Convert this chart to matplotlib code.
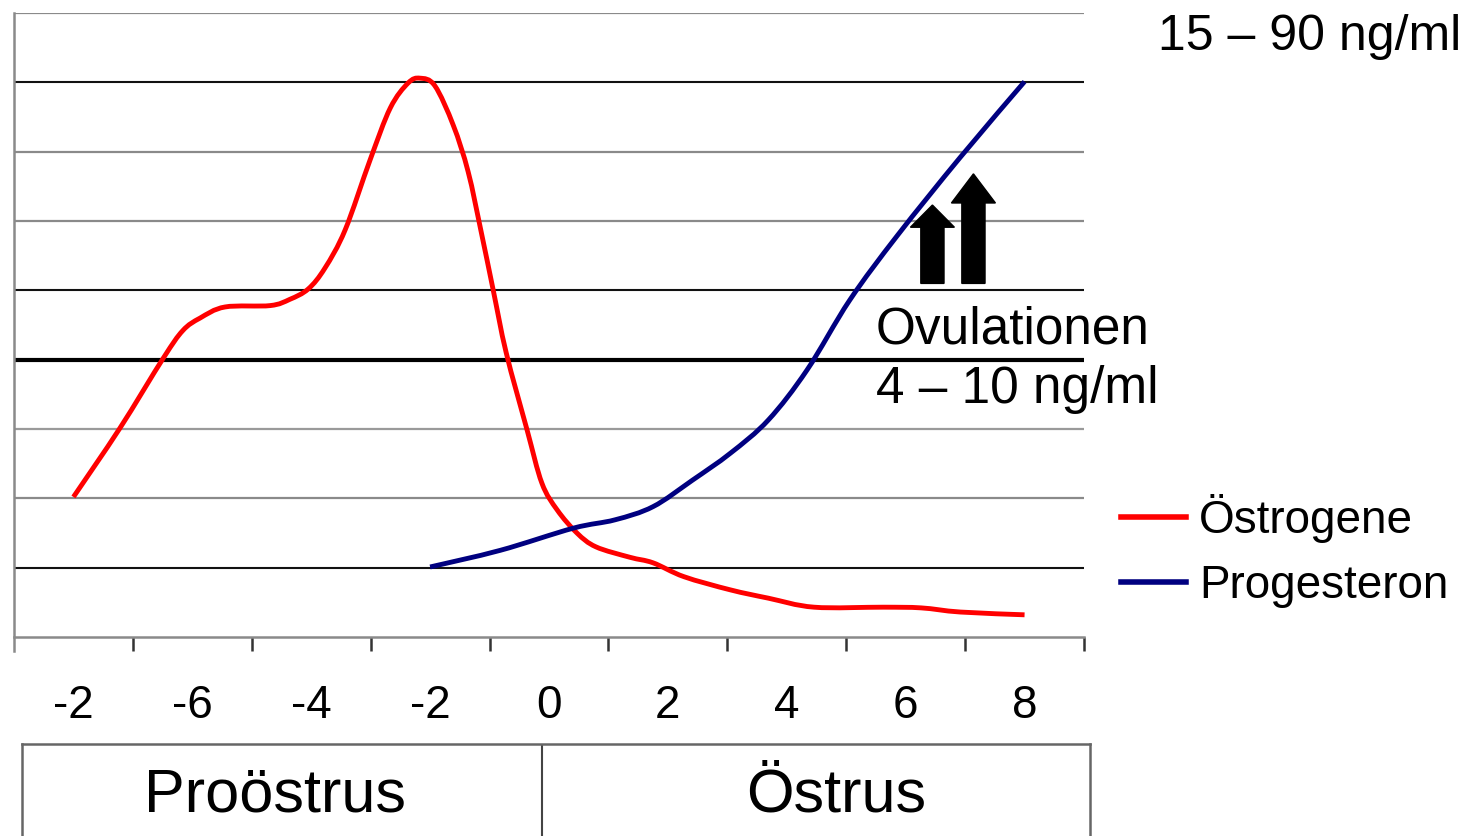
import matplotlib
matplotlib.use("Agg")
import matplotlib.pyplot as plt
from matplotlib.patches import FancyArrow, PathPatch
from matplotlib.path import Path
from matplotlib.lines import Line2D

plt.rcParams['font.family'] = ['Liberation Sans', 'DejaVu Sans']

# ---------------- data ----------------
# x in days, y in relative units (grid steps)
oestrogen_day = [-8.0, -7.22, -6.49, -6.16, -5.87, -5.45, -4.69, -4.36, -4.05,
                 -3.77, -3.43, -3.01, -2.67, -2.37, -2.17, -1.92, -1.61, -1.36, -1.14,
                 -0.94, -0.72, -0.37, -0.12, 0.14, 0.47, 0.79, 1.36, 1.75, 2.27,
                 3.05, 3.69, 4.46, 5.62, 6.26, 6.92, 8.0]
oestrogen_val = [2.02, 3.01, 4.02, 4.42, 4.60, 4.76, 4.78, 4.87, 5.02,
                 5.32, 5.87, 6.88, 7.63, 7.99, 8.06, 7.95, 7.38, 6.71, 5.84,
                 5.01, 4.10, 2.99, 2.22, 1.83, 1.50, 1.30, 1.15, 1.07, 0.87,
                 0.68, 0.56, 0.43, 0.43, 0.42, 0.36, 0.32]

progesteron_day = [-2.0, -0.82, 0.41, 1.11, 1.75, 2.41, 3.05, 3.69, 4.34, 5.06,
                   5.86, 6.92, 8.0]
progesteron_val = [1.01, 1.25, 1.57, 1.69, 1.88, 2.26, 2.65, 3.13, 3.85, 4.86,
                   5.79, 6.92, 8.01]

tick_days = [-8, -6, -4, -2, 0, 2, 4, 6, 8]
tick_labels = ['-2', '-6', '-4', '-2', '0', '2', '4', '6', '8']
phase_labels = ['Proöstrus', 'Östrus']
series_names = ['Östrogene', 'Progesteron']
series_colors = ['#ff0000', '#000080']

W, H = 1470, 836
fig = plt.figure(figsize=(W / 100, H / 100), dpi=100)


def fx(px):
    return px / W


def fy(py):
    return 1 - py / H


def smooth_path(xs, ys):
    """Catmull-Rom through the given points, as cubic Bezier segments (smoothed-line style)."""
    pts = list(zip(xs, ys))
    verts = [pts[0]]
    codes = [Path.MOVETO]
    n = len(pts)
    for i in range(n - 1):
        p0 = pts[i - 1] if i > 0 else pts[i]
        p1 = pts[i]
        p2 = pts[i + 1]
        p3 = pts[i + 2] if i + 2 < n else pts[i + 1]
        c1 = (p1[0] + (p2[0] - p0[0]) / 6, p1[1] + (p2[1] - p0[1]) / 6)
        c2 = (p2[0] - (p3[0] - p1[0]) / 6, p2[1] - (p3[1] - p1[1]) / 6)
        verts += [c1, c2, p2]
        codes += [Path.CURVE4] * 3
    return Path(verts, codes)


# main axes: pixel box x 14..1084, y 13..637
ax = fig.add_axes([fx(14), fy(637), fx(1084) - fx(14), fy(13) - fy(637)])
ax.set_xlim(-9, 9)
ax.set_ylim(0, 9)

grid_styles = {
    1: ('#111111', 1.5), 2: ('#8a8a8a', 1.6), 3: ('#9a9a9a', 1.6),
    4: ('#000000', 3.0), 5: ('#111111', 1.5), 6: ('#8a8a8a', 1.6),
    7: ('#8a8a8a', 1.6), 8: ('#111111', 1.5), 9: ('#8a8a8a', 1.6),
}
for yv, (c, lw) in grid_styles.items():
    ax.axhline(yv, color=c, lw=lw, zorder=1)

for s in ['top', 'right']:
    ax.spines[s].set_visible(False)
for s in ['left', 'bottom']:
    ax.spines[s].set_color('#8a8a8a')
    ax.spines[s].set_linewidth(1.8)
ax.spines['left'].set_bounds(-0.2, 9)

ax.set_yticks([])
ax.set_xticks(tick_days)
ax.set_xticklabels(tick_labels, fontsize=33)
ax.tick_params(axis='x', which='major', length=0, pad=33.5)
ax.set_xticks([-7, -5, -3, -1, 1, 3, 5, 7, 9], minor=True)
ax.tick_params(axis='x', which='minor', length=10, width=1.8, color='#333333', direction='out')

for xs, ys, col in [(oestrogen_day, oestrogen_val, series_colors[0]),
                    (progesteron_day, progesteron_val, series_colors[1])]:
    ax.add_patch(PathPatch(smooth_path(xs, ys), facecolor='none', edgecolor=col,
                           lw=3.5, capstyle='butt', joinstyle='round', zorder=3))

# ovulation arrows
ax.add_patch(FancyArrow(6.45, 5.1, 0, 1.13, width=0.39, head_width=0.74,
                        head_length=0.32, length_includes_head=True,
                        color='black', zorder=4))
ax.add_patch(FancyArrow(7.14, 5.1, 0, 1.58, width=0.39, head_width=0.74,
                        head_length=0.42, length_includes_head=True,
                        color='black', zorder=4))

# annotations
fig.text(fx(1158), fy(50), '15 – 90 ng/ml', fontsize=36, ha='left', va='baseline')
fig.text(fx(876), fy(343), 'Ovulationen', fontsize=37, ha='left', va='baseline')
fig.text(fx(876), fy(403), '4 – 10 ng/ml', fontsize=37, ha='left', va='baseline')

# legend
handles = [Line2D([], [], color=series_colors[0], lw=4),
           Line2D([], [], color=series_colors[1], lw=4)]
fig.legend(handles, series_names, loc='upper left',
           bbox_to_anchor=(fx(1121), fy(494)), bbox_transform=fig.transFigure,
           frameon=False, fontsize=33, handlelength=1.42, handletextpad=0.28,
           labelspacing=0.45, borderpad=0, borderaxespad=0)

# phase table below
tax = fig.add_axes([fx(22), -0.05, fx(1090) - fx(22), fy(744) + 0.05])
tax.set_xlim(22, 1090)
tax.set_ylim(0, 1)
tax.set_xticks([])
tax.set_yticks([])
for s in ['left', 'right', 'top', 'bottom']:
    tax.spines[s].set_color('#666666')
    tax.spines[s].set_linewidth(1.8)
tax.axvline(542, color='#444444', lw=1.5)
fig.text(fx(275), fy(812), phase_labels[0], fontsize=44, ha='center', va='baseline')
fig.text(fx(836), fy(812), phase_labels[1], fontsize=44, ha='center', va='baseline')

fig.savefig('out.png', dpi=100)
